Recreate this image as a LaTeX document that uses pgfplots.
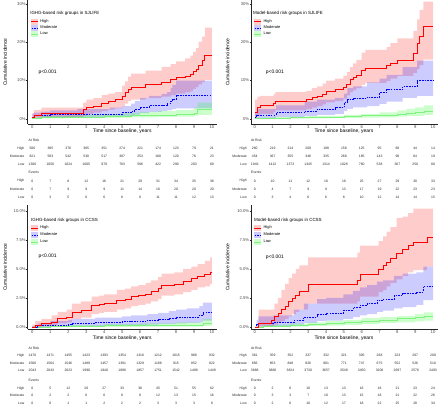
\documentclass[border=0pt]{standalone}
\usepackage{fontspec}
\setmainfont{Liberation Sans}
\usepackage{pgfplots}
\usepackage{pgfplotstable}
\pgfplotsset{compat=1.18}
\usepgfplotslibrary{fillbetween}

\definecolor{cR}{rgb}{1,0,0}
\definecolor{cB}{rgb}{0,0,1}
\definecolor{cG}{rgb}{0,1,0}
\definecolor{cGl}{rgb}{0.5,0.95,0.5}

% ---------- data: t = step start (years), y = cumulative incidence (%), u/l = CI ----------
\pgfplotstableread{
t y u l
0 0.5 1.5 0.0
0.1 1.0 2.3 0.2
0.5 1.4 2.9 0.3
2.83 2.4 4.2 0.7
3.0 2.9 5.0 1.3
3.4 3.3 5.4 1.6
3.85 4.0 6.2 2.0
4.2 4.6 6.6 2.4
4.6 5.0 7.0 2.7
5.0 5.9 8.7 3.3
5.15 6.8 9.8 4.0
5.33 7.6 11.0 4.6
5.5 8.2 11.8 5.0
6.3 9.0 12.6 5.4
7.2 9.6 13.6 5.8
7.7 10.2 14.3 6.2
8.0 10.8 15.0 6.6
8.5 11.2 15.8 6.9
8.8 11.6 16.5 7.2
8.95 12.3 17.5 7.8
9.1 13.0 18.5 8.3
9.25 14.0 20.2 9.0
9.45 15.2 21.5 9.6
9.6 16.7 23.8 10.2
10 16.7 23.8 10.2
}\aH
\pgfplotstableread{
t y u l
0 0.5 1.3 0.1
0.1 0.8 1.6 0.3
0.5 1.0 1.9 0.4
1.0 1.2 2.2 0.5
2.5 1.2 2.5 0.5
4.3 1.2 2.9 0.5
5.0 1.6 3.3 0.6
5.5 2.0 4.0 0.9
5.7 2.4 4.6 1.1
6.0 3.1 5.5 1.5
6.5 3.5 6.0 1.8
7.2 3.5 6.5 2.0
7.5 4.0 7.0 2.2
7.7 4.6 8.0 2.3
7.8 5.2 8.9 2.5
8.0 6.2 10.0 2.7
10 6.2 10.0 2.7
}\aM
\pgfplotstableread{
t y u l
0 0.1 0.4 0.0
0.5 0.3 0.7 0.1
2.0 0.4 0.9 0.15
3.0 0.5 1.0 0.15
4.0 0.6 1.2 0.2
5.0 0.7 1.4 0.3
5.5 0.8 1.6 0.35
6.0 0.9 1.8 0.4
7.0 1.0 2.0 0.5
8.0 1.2 2.3 0.6
9.0 1.5 3.0 0.7
9.2 2.4 4.2 1.0
10 2.4 4.2 1.0
}\aL
\pgfplotstableread{
t y u l
0 1.6 5.0 0.0
0.15 3.0 5.8 0.8
0.3 3.5 6.0 1.3
1.06 4.0 6.5 1.8
1.15 4.5 7.0 2.2
2.9 5.0 7.3 2.5
3.2 5.5 8.0 2.9
3.5 5.9 8.5 3.3
3.8 6.5 9.2 3.8
4.0 7.1 10.0 4.3
4.5 7.6 10.5 4.7
4.97 8.3 11.3 5.3
5.16 9.1 12.2 6.1
5.35 10.2 13.5 7.0
5.5 10.8 14.5 7.4
5.7 11.5 15.4 8.0
6.0 12.7 17.3 8.9
6.2 13.3 18.0 9.4
7.4 13.9 18.8 9.9
7.6 14.6 19.8 10.5
8.0 15.4 21.0 11.2
8.9 17.2 23.0 12.0
9.1 19.8 26.0 13.0
9.25 21.5 28.5 14.0
9.45 24.1 30.6 15.5
10 24.1 30.6 15.5
}\bH
\pgfplotstableread{
t y u l
0 0.3 1.5 0.0
0.1 1.0 2.5 0.2
1.2 1.6 3.5 0.5
2.8 2.0 4.5 0.8
3.5 2.6 5.0 1.0
4.5 2.9 5.5 1.2
5.0 4.2 6.6 2.0
5.2 5.0 8.0 2.6
5.5 5.3 8.5 3.0
6.3 5.7 9.5 3.3
7.0 6.8 10.5 3.9
7.4 7.6 11.5 4.5
8.3 8.5 13.5 5.5
9.1 10.0 15.2 6.0
10 10.0 15.2 6.0
}\bM
\pgfplotstableread{
t y u l
0 0.1 0.3 0.0
1 0.2 0.5 0.0
2 0.3 0.6 0.05
3 0.4 0.7 0.1
4 0.5 0.8 0.15
5 0.6 1.0 0.2
6 0.8 1.3 0.3
7 1.0 1.7 0.4
8 1.3 2.2 0.6
8.5 1.5 2.6 0.7
9 1.7 3.0 0.8
9.5 2.0 3.5 1.0
10 2.0 3.5 1.0
}\bL
\pgfplotstableread{
t y u l
0 0.0 0.2 0.0
0.15 0.15 0.5 0.0
0.5 0.3 0.7 0.05
1.07 0.4 1.0 0.1
1.4 0.7 1.3 0.3
1.9 0.85 1.5 0.4
2.2 1.3 2.0 0.7
2.7 1.45 2.2 0.8
3.3 1.85 2.6 1.1
3.7 1.95 2.7 1.2
4.0 2.0 2.8 1.3
4.7 2.3 3.2 1.5
5.15 2.4 3.3 1.6
5.5 2.6 3.5 1.8
5.9 2.7 3.6 1.9
6.3 2.85 3.8 2.0
6.6 3.1 4.0 2.2
7.0 3.3 4.3 2.4
7.2 3.6 4.6 2.7
7.9 3.7 4.7 2.8
8.4 3.95 5.0 3.0
8.85 4.15 5.2 3.2
9.2 4.35 5.4 3.4
9.6 4.5 5.7 3.5
9.9 4.7 6.0 3.7
10 4.7 6.0 3.7
}\cH
\pgfplotstableread{
t y u l
0 0.0 0.1 0.0
0.3 0.1 0.3 0.0
1.0 0.15 0.5 0.0
2.0 0.2 0.6 0.02
2.2 0.3 0.7 0.05
3.5 0.4 0.8 0.1
5.0 0.45 0.9 0.12
5.5 0.5 1.0 0.15
6.4 0.6 1.1 0.2
7.0 0.65 1.2 0.25
7.6 0.7 1.35 0.27
8.0 0.8 1.5 0.3
8.6 0.85 1.6 0.35
9.3 1.0 1.8 0.4
9.5 1.3 2.1 0.55
10 1.3 2.1 0.55
}\cM
\pgfplotstableread{
t y u l
0 0.0 0.05 0.0
1 0.02 0.1 0.0
2 0.05 0.15 0.0
4 0.1 0.25 0.0
6 0.12 0.3 0.02
8 0.15 0.4 0.03
9.5 0.3 0.7 0.08
10 0.3 0.7 0.08
}\cL
\pgfplotstableread{
t y u l
0 0.0 0.0 0.0
0.22 0.35 1.5 0.0
0.9 0.6 1.5 0.05
1.1 0.9 2.0 0.2
1.3 1.2 2.5 0.4
1.5 1.5 3.2 0.5
1.7 1.8 3.7 0.7
1.9 2.2 4.2 0.9
2.1 2.5 4.6 1.1
2.3 2.7 5.0 1.3
2.5 3.1 5.3 1.5
3.0 3.7 6.0 2.0
5.75 4.0 6.4 2.2
5.9 4.5 7.0 2.6
6.95 5.0 7.4 3.0
7.2 5.3 7.8 3.2
7.4 5.6 8.2 3.5
7.6 5.9 8.6 3.8
7.95 6.3 9.4 4.1
8.3 6.7 9.5 4.4
8.6 7.0 9.8 4.7
8.9 7.3 10.2 4.9
9.65 7.7 10.2 5.2
10 7.7 10.2 5.2
}\dH
\pgfplotstableread{
t y u l
0 0.0 0.0 0.0
0.1 0.2 0.6 0.0
0.2 0.35 0.9 0.05
1.05 0.43 1.0 0.1
2.2 0.57 1.5 0.2
2.75 0.86 2.0 0.35
3.5 1.1 2.4 0.5
4.0 1.2 2.5 0.55
4.97 1.43 2.8 0.7
5.5 1.66 3.1 0.85
5.9 1.86 3.4 1.0
6.3 2.0 3.6 1.1
6.85 2.3 3.9 1.3
7.2 2.4 4.0 1.4
7.8 2.7 4.4 1.6
8.3 2.86 4.6 1.7
9.06 3.0 4.7 1.9
9.45 3.5 5.2 2.3
10 3.5 5.2 2.3
}\dM
\pgfplotstableread{
t y u l
0 0.0 0.05 0.0
0.5 0.05 0.15 0.0
1 0.07 0.2 0.0
2 0.15 0.3 0.02
3 0.25 0.4 0.08
4 0.3 0.5 0.12
5 0.4 0.6 0.18
6 0.5 0.75 0.25
7 0.6 0.85 0.32
8 0.7 0.95 0.4
9 0.8 1.1 0.48
9.5 0.9 1.25 0.55
10 0.9 1.25 0.55
}\dL

% ---------- helpers ----------
\newcommand\band[3]{%
  \addplot[const plot, draw=none, name path=#3u, forget plot] table[x=t,y=u]{#1};
  \addplot[const plot, draw=none, name path=#3l, forget plot] table[x=t,y=l]{#1};
  \addplot[fill=#2, fill opacity=0.2, draw=none, forget plot] fill between[of=#3u and #3l];
}
\newcommand\curve[3]{\addplot[const plot, draw=#2, line width=0.6pt, #3, forget plot] table[x=t,y=y]{#1};}
\newcommand\rrow[3]{%
  \node[tbl, anchor=east] at (axis cs:-0.44,#1) {#2};
  \foreach \v [count=\i from 0] in {#3} {\edef\tmp{\noexpand\node[tbl] at (axis cs:\i,#1) {\v};}\tmp}
}
\newcommand\legendkeys{%
  \addlegendimage{legend image code/.code={\fill[cR, fill opacity=0.2, draw=none] (0pt,-3pt) rectangle (7pt,3pt); \draw[cR, line width=0.6pt] (0pt,0pt)--(7pt,0pt);}}
  \addlegendentry{High}
  \addlegendimage{legend image code/.code={\fill[cB, fill opacity=0.2, draw=none] (0pt,-3pt) rectangle (7pt,3pt); \draw[cB, line width=0.6pt, dash pattern=on 1.6pt off 1.1pt] (0.4pt,0pt)--(7pt,0pt);}}
  \addlegendentry{Moderate}
  \addlegendimage{legend image code/.code={\fill[cG, fill opacity=0.2, draw=none] (0pt,-3pt) rectangle (7pt,3pt); \draw[cGl, line width=0.6pt] (0pt,0pt)--(7pt,0pt);}}
  \addlegendentry{Low}
}

\tikzset{tbl/.style={font=\fontsize{3.4}{4}\selectfont, text=black!85, inner sep=0pt}}

\pgfplotsset{
  panel/.style={
    scale only axis, clip=false,
    axis lines=left, axis line style={-, black!85, line width=0.4pt},
    tick style={black!85, line width=0.4pt}, tick align=outside, major tick length=1.2pt,
    xtick={0,...,10}, xticklabels={0,1,2,3,4,5,6,7,8,9,10},
    ticklabel style={font=\fontsize{4.2}{5}\selectfont, text=black!70},
    xticklabel style={inner sep=0.3pt}, yticklabel style={inner sep=0.6pt},
    ylabel={Cumulative incidence},
    ylabel style={font=\fontsize{5}{6}\selectfont},
    legend cell align=left,
    legend style={draw=none, fill=none, inner sep=0pt, column sep=1.7pt,
      font=\fontsize{4}{4.5}\selectfont, nodes={inner sep=0.3pt}, anchor=north west},
  },
  toprow/.style={panel, height=124.1pt, ymin=-1.3, ymax=31,
    ytick={0,10,20,30}, yticklabels={0\%,10\%,20\%,30\%}},
  botrow/.style={panel, height=124.7pt, ymin=-0.2, ymax=10.5,
    ytick={0,2.5,5,7.5,10}, yticklabels={0.0\%,2.5\%,5.0\%,7.5\%,10.0\%}},
  leftcol/.style={width=190.6pt, xmin=-0.27, xmax=10.3,
    ylabel style={at={(axis description cs:-0.118,0.5)}, anchor=center}},
  rightcol/.style={width=188pt, xmin=-0.2, xmax=10.3,
    ylabel style={at={(axis description cs:-0.126,0.5)}, anchor=center}},
}

\newcommand\toptable[6]{%
  \node[font=\fontsize{5}{6}\selectfont, inner sep=0pt] at (axis cs:5,-3.3) {Time since baseline, years};
  \node[tbl, anchor=west] at (axis cs:-0.22,-5.65) {At Risk};
  \rrow{-7.81}{High}{#1}
  \rrow{-9.89}{Moderate}{#2}
  \rrow{-11.97}{Low}{#3}
  \node[tbl, anchor=west] at (axis cs:-0.22,-14.05) {Events};
  \rrow{-16.24}{High}{#4}
  \rrow{-18.32}{Moderate}{#5}
  \rrow{-20.40}{Low}{#6}
}
\newcommand\bottable[6]{%
  \node[font=\fontsize{5}{6}\selectfont, inner sep=0pt] at (axis cs:5,-0.96) {Time since baseline, years};
  \node[tbl, anchor=west] at (axis cs:-0.22,-1.861) {At Risk};
  \rrow{-2.487}{High}{#1}
  \rrow{-3.122}{Moderate}{#2}
  \rrow{-3.774}{Low}{#3}
  \node[tbl, anchor=west] at (axis cs:-0.22,-4.580) {Events};
  \rrow{-5.292}{High}{#4}
  \rrow{-5.918}{Moderate}{#5}
  \rrow{-6.578}{Low}{#6}
}

\begin{document}
\begin{tikzpicture}
\path (0,0) rectangle (440pt,408pt);

% ===== Top-left: IGHG SJLIFE =====
\begin{axis}[toprow, leftcol, at={(25.83pt,283.7pt)}, anchor=south west,
  legend style={at={(axis description cs:0.0166,0.853)}, row sep=0.4pt}]
  \band{\aH}{cR}{pa}
  \band{\aM}{cB}{pb}
  \band{\aL}{cG}{pc}
  \curve{\aL}{cGl}{}
  \curve{\aM}{cB}{dash pattern=on 1.6pt off 1.1pt}
  \curve{\aH}{cR}{}
  \legendkeys
  \node[anchor=west, font=\fontsize{4.5}{5}\selectfont, inner sep=0pt] at (axis cs:-0.13,27.6) {IGHG-based risk groups in SJLIFE};
  \node[anchor=west, font=\fontsize{5}{6}\selectfont, inner sep=0pt] at (axis cs:0.33,12.1) {p<0.001};
  \toptable{506,385,376,365,351,274,221,174,123,79,21}
           {821,583,542,530,517,397,253,180,120,76,23}
           {1300,1050,1024,1005,979,783,596,422,290,203,69}
           {0,7,8,12,16,21,29,31,34,35,38}
           {0,7,9,9,9,11,14,16,20,20,20}
           {0,3,5,6,6,8,9,11,11,12,13}
\end{axis}

% ===== Top-right: Model SJLIFE =====
\begin{axis}[toprow, rightcol, at={(250.4pt,283.7pt)}, anchor=south west,
  legend style={at={(axis description cs:0.014,0.853)}, row sep=0.4pt}]
  \band{\bH}{cR}{qa}
  \band{\bM}{cB}{qb}
  \band{\bL}{cG}{qc}
  \curve{\bL}{cGl}{}
  \curve{\bM}{cB}{dash pattern=on 1.6pt off 1.1pt}
  \curve{\bH}{cR}{}
  \legendkeys
  \node[anchor=west, font=\fontsize{4.5}{5}\selectfont, inner sep=0pt] at (axis cs:-0.1,27.6) {Model-based risk groups in SJLIFE};
  \node[anchor=west, font=\fontsize{5}{6}\selectfont, inner sep=0pt] at (axis cs:0.61,12.1) {p<0.001};
  \toptable{260,219,214,209,198,158,125,95,68,44,14}
           {454,367,355,346,335,268,185,143,98,64,19}
           {1943,1412,1373,1345,1314,1028,760,538,367,250,80}
           {0,10,11,12,16,19,25,27,29,30,33}
           {0,4,7,9,9,13,17,19,22,23,23}
           {0,3,4,6,6,8,10,12,14,14,15}
\end{axis}

% ===== Bottom-left: IGHG CCSS =====
\begin{axis}[botrow, leftcol, at={(25.83pt,77.4pt)}, anchor=south west,
  legend style={at={(axis description cs:0.0166,0.839)}, row sep=0.9pt}]
  \band{\cH}{cR}{ra}
  \band{\cM}{cB}{rb}
  \band{\cL}{cG}{rc}
  \curve{\cL}{cGl}{}
  \curve{\cM}{cB}{dash pattern=on 1.6pt off 1.1pt}
  \curve{\cH}{cR}{}
  \legendkeys
  \node[anchor=west, font=\fontsize{4.5}{5}\selectfont, inner sep=0pt] at (axis cs:-0.08,9.14) {IGHG-based risk groups in CCSS};
  \node[anchor=west, font=\fontsize{5}{6}\selectfont, inner sep=0pt] at (axis cs:0.33,6.09) {p<0.001};
  \bottable{1476,1471,1455,1423,1393,1354,1316,1212,1015,968,932}
           {1566,1564,1546,1489,1457,1391,1329,1188,915,852,822}
           {2043,2043,2023,1990,1940,1896,1857,1751,1542,1489,1449}
           {0,5,12,20,27,33,38,45,51,55,62}
           {0,2,2,6,6,8,9,12,13,15,16}
           {0,0,1,1,2,2,2,3,3,3,6}
\end{axis}

% ===== Bottom-right: Model CCSS =====
\begin{axis}[botrow, rightcol, at={(250.4pt,77.4pt)}, anchor=south west,
  legend style={at={(axis description cs:0.014,0.839)}, row sep=0.9pt}]
  \band{\dH}{cR}{sa}
  \band{\dM}{cB}{sb}
  \band{\dL}{cG}{sc}
  \curve{\dL}{cGl}{}
  \curve{\dM}{cB}{dash pattern=on 1.6pt off 1.1pt}
  \curve{\dH}{cR}{}
  \legendkeys
  \node[anchor=west, font=\fontsize{4.5}{5}\selectfont, inner sep=0pt] at (axis cs:-0.04,9.2) {Model-based risk groups in CCSS};
  \node[anchor=west, font=\fontsize{5}{6}\selectfont, inner sep=0pt] at (axis cs:0.61,6.0) {p<0.001};
  \bottable{361,359,352,337,332,321,305,268,223,207,200}
           {856,853,848,826,801,771,747,675,552,526,510}
           {3868,3866,3824,3730,3657,3549,3450,3208,2697,2576,2493}
           {0,2,6,10,13,13,16,18,21,23,24}
           {0,3,3,7,10,13,15,18,21,22,26}
           {0,2,6,10,12,17,18,22,25,28,34}
\end{axis}
\end{tikzpicture}
\end{document}
